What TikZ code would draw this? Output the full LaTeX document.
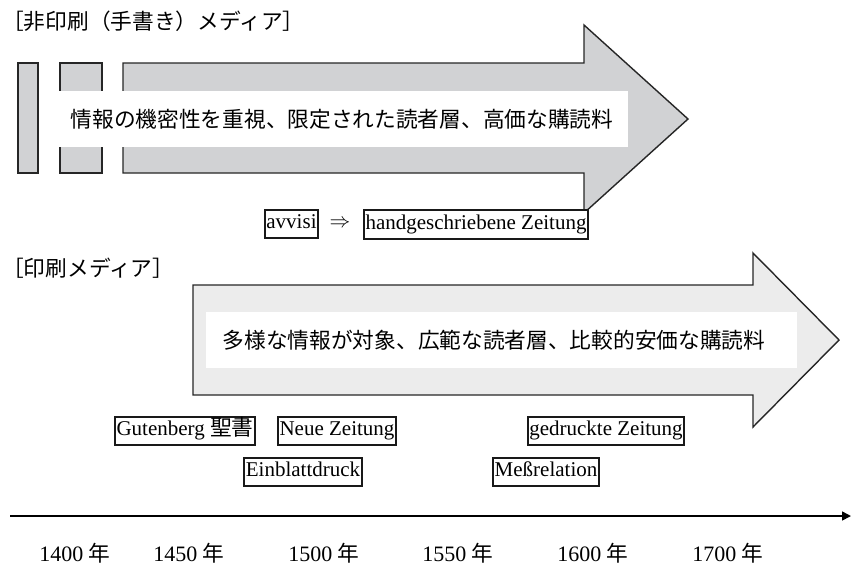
\documentclass[tikz,border=0pt]{standalone}
\usepackage{fontspec}
\setmainfont{Liberation Serif}
\newfontfamily\jp{Noto Sans CJK JP}
\usetikzlibrary{arrows.meta}
\definecolor{topfill}{HTML}{D1D2D4}
\definecolor{botfill}{HTML}{ECECEC}
\newcommand{\jpf}{\jp\fontsize{21.7}{26}\selectfont}
\begin{document}
\begin{tikzpicture}[x=1pt,y=-1pt,
  outl/.style={draw=black!85,line width=1.4pt},
  lbl/.style={draw=black!90,line width=2pt,fill=white,inner xsep=1.5pt,inner ysep=5pt,
     text height=14pt,text depth=4.5pt,font=\fontsize{21}{24}\selectfont},
  jptxt/.style={font=\jpf,inner sep=0pt},
  yr/.style={font=\fontsize{22}{26}\selectfont,inner sep=0pt}]
\useasboundingbox (0,0) rectangle (851,566);
% titles
\node[jptxt,anchor=west] (t1) at (2,21) {［非印刷（手書き）メディア］};
\node[jptxt,anchor=west] (t2) at (2,268) {［印刷メディア］};
% top: bars and arrow
\draw[outl,fill=topfill] (18,63) rectangle (38,173);
\draw[outl,fill=topfill] (60,63) rectangle (102,173);
\draw[outl,fill=topfill] (123,63) -- (584,63) -- (584,25) -- (688,119) -- (584,213) -- (584,173) -- (123,173) -- cycle;
\fill[white] (48,91) rectangle (628,147);
\node[jptxt] (a1) at (342,119) {情報の機密性を重視、限定された読者層、高価な購読料};
% bottom arrow
\draw[outl,fill=botfill] (193,285) -- (753,285) -- (753,253) -- (839,340) -- (753,427) -- (753,395) -- (193,395) -- cycle;
\fill[white] (206,312) rectangle (797,368);
\node[jptxt] (a2) at (494,340) {多様な情報が対象、広範な読者層、比較的安価な購読料};
% labels
\node[lbl] (avv) at (291.5,224) {avvisi};
\node[font=\fontsize{22}{24}\selectfont,inner sep=0pt] (impl) at (340,224) {$\Rightarrow$};
\node[lbl] (hand) at (476,224.5) {handgeschriebene Zeitung};
\node[lbl] (gut) at (185,431) {Gutenberg {\jpf 聖書}};
\node[lbl] (neue) at (337,431) {Neue Zeitung};
\node[lbl] (einb) at (303,472) {Einblattdruck};
\node[lbl] (mess) at (546,472) {Meßrelation};
\node[lbl] (gedr) at (606,431) {gedruckte Zeitung};
% axis
\coordinate (axL) at (10,516);
\coordinate (axR) at (851,516);
\draw[line width=1.6pt,-{Triangle[length=9pt,width=9pt]}] (axL) -- (axR);
\node[yr] (y1) at (75,553) {1400 {\jpf 年}};
\node[yr] (y2) at (189,553) {1450 {\jpf 年}};
\node[yr] (y3) at (324,553) {1500 {\jpf 年}};
\node[yr] (y4) at (458,553) {1550 {\jpf 年}};
\node[yr] (y5) at (593,553) {1600 {\jpf 年}};
\node[yr] (y6) at (728,553) {1700 {\jpf 年}};
\end{tikzpicture}
\end{document}
